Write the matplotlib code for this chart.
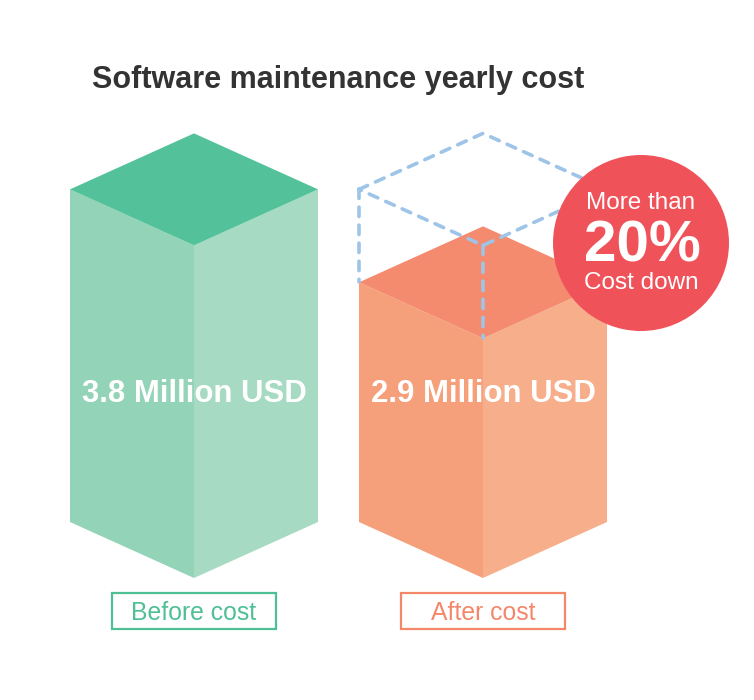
import matplotlib.pyplot as plt
from matplotlib.patches import Polygon, Circle, Rectangle

plt.rcParams['font.family'] = ['Liberation Sans', 'DejaVu Sans']

# data
categories = ['Before cost', 'After cost']
values = [3.8, 2.9]          # million USD
value_labels = ['3.8 Million USD', '2.9 Million USD']
badge_lines = ['More than', '20%', 'Cost down']
title = 'Software maintenance yearly cost'

# colours per box: top, left face, right face, label
palettes = [
    ('#53c19a', '#93d3b7', '#a6dac3', '#4fbf95'),
    ('#f48a6e', '#f6a07b', '#f7ae8b', '#f4876a'),
]

fig = plt.figure(figsize=(7.54, 7.00), dpi=100)
ax = fig.add_axes([0, 0, 1, 1])
ax.set_xlim(0, 754)
ax.set_ylim(700, 0)
ax.axis('off')

# box geometry (pixel-like units)
centers = [194, 483]
half_w = 124
half_d = 56
ground = 578        # bottom (front) vertex
floor_val = 0.58    # value where the box height would be zero
px_per_unit = 103.3


def front_top(v):
    return ground - (v - floor_val) * px_per_unit


def box(cx, v, cols):
    ft = front_top(v)
    top, left, right = cols[0], cols[1], cols[2]
    ax.add_patch(Polygon([(cx - half_w, ft - half_d), (cx, ft), (cx, ground),
                          (cx - half_w, ground - half_d)], closed=True, fc=left, ec='none', zorder=1))
    ax.add_patch(Polygon([(cx, ft), (cx + half_w, ft - half_d), (cx + half_w, ground - half_d),
                          (cx, ground)], closed=True, fc=right, ec='none', zorder=1))
    ax.add_patch(Polygon([(cx, ft - 2 * half_d), (cx + half_w, ft - half_d), (cx, ft),
                          (cx - half_w, ft - half_d)], closed=True, fc=top, ec='none', zorder=2))


for cx, v, cols, lab, cat in zip(centers, values, palettes, value_labels, categories):
    box(cx, v, cols)
    ax.text(cx, 402, lab, color='white', fontsize=22.4, fontweight='bold',
            ha='center', va='baseline', zorder=5)
    ax.add_patch(Rectangle((cx - 82, 593), 164, 36, fill=False, ec=cols[3], lw=1.6, zorder=3))
    ax.text(cx, 620, cat, color=cols[3], fontsize=17.8, ha='center', va='baseline', zorder=5)

# dashed outline of the old cost on the new box
cx = centers[1]
ft_old = front_top(values[0])
ft_new = front_top(values[1])
dash_kw = dict(color='#9ec4e8', lw=2.6, dashes=(2.6, 2.4), solid_capstyle='round',
               dash_capstyle='round', zorder=3)
outline = [(cx - half_w, ft_old - half_d), (cx, ft_old - 2 * half_d),
           (cx + half_w, ft_old - half_d), (cx, ft_old), (cx - half_w, ft_old - half_d)]
ax.plot([p[0] for p in outline], [p[1] for p in outline], **dash_kw)
for x0, y0 in [(cx - half_w, ft_old - half_d), (cx, ft_old), (cx + half_w, ft_old - half_d)]:
    ax.plot([x0, x0], [y0, y0 + (ft_new - ft_old)], **dash_kw)

# badge
ax.add_patch(Circle((641, 243), 88, fc='#f0525a', ec='none', zorder=4))
ax.text(641, 209, badge_lines[0], color='white', fontsize=17.5, ha='center', va='baseline', zorder=5)
ax.text(642, 262, badge_lines[1], color='white', fontsize=42, fontweight='bold',
        ha='center', va='baseline', zorder=5)
ax.text(641, 289, badge_lines[2], color='white', fontsize=17.5, ha='center', va='baseline', zorder=5)

ax.text(92, 88, title, color='#333333', fontsize=22, fontweight='bold',
        ha='left', va='baseline')

fig.savefig('out.png', dpi=100, facecolor='white')
